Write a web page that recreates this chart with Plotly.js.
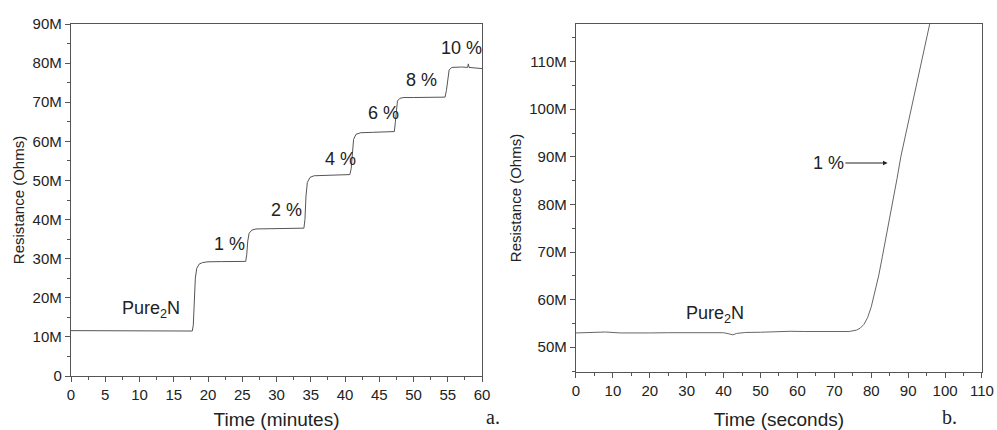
<!DOCTYPE html>
<html>
<head>
<meta charset="utf-8">
<script src="https://cdn.plot.ly/plotly-3.0.1.min.js"></script>
<style>html,body{margin:0;padding:0;background:#fff;}#chart{width:997px;height:430px;}</style>
</head>
<body>
<div id="chart"></div>
<script>
// Panel a: resistance vs time (minutes)
const timeMinutes = [0, 5, 10, 15, 17.7, 17.85, 18.0, 18.15, 18.35, 18.7, 19.2, 20, 22, 24, 25.5,
  25.65, 25.8, 26.0, 26.4, 27, 29, 31, 33, 34.0, 34.15, 34.3, 34.5, 34.9, 35.5, 37, 39, 40.7,
  40.9, 41.05, 41.25, 41.6, 42.3, 44, 46, 47.2, 47.35, 47.5, 47.65, 48.0, 48.6, 50, 52, 54.6,
  54.8, 55.0, 55.2, 55.6, 56.2, 57, 57.9, 58.0, 58.1, 59, 60];
const resistanceA = [11.6e6, 11.55e6, 11.5e6, 11.5e6, 11.5e6, 13e6, 20e6, 25e6, 27.5e6, 28.6e6, 29.0e6, 29.2e6, 29.25e6, 29.3e6, 29.3e6,
  31e6, 34.5e6, 36.5e6, 37.3e6, 37.6e6, 37.7e6, 37.8e6, 37.75e6, 37.8e6, 40e6, 46e6, 49.5e6, 50.8e6, 51.2e6, 51.3e6, 51.35e6, 51.5e6,
  53e6, 57e6, 60.5e6, 61.8e6, 62.2e6, 62.3e6, 62.35e6, 62.5e6, 65e6, 68.5e6, 70.3e6, 71.0e6, 71.2e6, 71.2e6, 71.25e6, 71.3e6,
  73e6, 76.5e6, 78.3e6, 78.9e6, 79.0e6, 79.0e6, 78.9e6, 79.8e6, 78.9e6, 78.8e6, 78.6e6];
const labelsA = ["1 %", "2 %", "4 %", "6 %", "8 %", "10 %"];
const labelsAx = [23.2, 31.5, 39.3, 45.6, 51.2, 57.0];
const labelsAy = [33.7e6, 42.5e6, 55.5e6, 67.2e6, 75.7e6, 83.8e6];

// Panel b: resistance vs time (seconds)
const timeSeconds = [0, 3, 8, 12, 15, 20, 25, 30, 35, 40, 41.5, 42.5, 43.5, 46, 50, 55, 58, 62, 66, 70, 74,
  76, 77, 78, 79, 80, 81, 82, 83, 84, 85, 86, 87, 88, 89, 90, 91, 92, 93, 94, 95, 96];
const resistanceB = [53.0e6, 53.05e6, 53.2e6, 53.0e6, 53.05e6, 53.0e6, 53.05e6, 53.1e6, 53.05e6, 53.05e6, 52.8e6, 52.6e6, 52.9e6, 53.1e6, 53.15e6, 53.3e6, 53.35e6, 53.3e6, 53.25e6, 53.2e6, 53.3e6,
  53.6e6, 54.0e6, 54.8e6, 56.2e6, 58.5e6, 61.5e6, 65e6, 69e6, 73e6, 77e6, 81e6, 85.5e6, 90e6, 93.5e6, 97e6, 100.5e6, 104e6, 108e6, 111.5e6, 115e6, 118.5e6];

const tickFont = {family: "Liberation Sans, Arial, sans-serif", size: 15, color: "#222"};
const titleFont = {family: "Liberation Sans, Arial, sans-serif", size: 19, color: "#222"};
const yTitleFont = {family: "Liberation Sans, Arial, sans-serif", size: 15, color: "#222"};
const annFont = {family: "Liberation Sans, Arial, sans-serif", size: 18, color: "#222"};
const lineColor = "#555";

function xAxis(domain, range, dtick, minorDtick, title) {
  return {
    domain: domain, range: range, dtick: dtick, tick0: 0,
    showgrid: false, zeroline: false, showline: true, mirror: true,
    linecolor: lineColor, linewidth: 1.2,
    ticks: "outside", ticklen: 5, tickwidth: 1, tickcolor: lineColor,
    minor: {ticks: "outside", ticklen: 3, dtick: minorDtick, tickcolor: lineColor, showgrid: false},
    tickfont: tickFont, automargin: false,
    title: {text: title, font: titleFont, standoff: 15}
  };
}
function yAxis(domain, range, anchor) {
  return {
    domain: domain, range: range, dtick: 10e6, tick0: 0, tickformat: "~s", anchor: anchor,
    showgrid: false, zeroline: false, showline: true, mirror: true,
    linecolor: lineColor, linewidth: 1.2,
    ticks: "outside", ticklen: 5, tickwidth: 1, tickcolor: lineColor,
    minor: {ticks: "outside", ticklen: 3, dtick: 5e6, tickcolor: lineColor, showgrid: false},
    tickfont: tickFont, automargin: false,
    title: {text: "Resistance (Ohms)", font: yTitleFont, standoff: 4}
  };
}

const traces = [
  {x: timeMinutes, y: resistanceA, xaxis: "x", yaxis: "y", mode: "lines",
   line: {color: "#555", width: 1}, showlegend: false, hoverinfo: "x+y"},
  {x: timeSeconds, y: resistanceB, xaxis: "x2", yaxis: "y2", mode: "lines",
   line: {color: "#666", width: 1}, showlegend: false, hoverinfo: "x+y"}
];

const annotations = [];
for (let i = 0; i < labelsA.length; i++) {
  annotations.push({x: labelsAx[i], y: labelsAy[i], xref: "x", yref: "y", text: labelsA[i],
    showarrow: false, font: annFont});
}
annotations.push({x: 11.7, y: 16.9e6, xref: "x", yref: "y", text: "Pure<sub>2</sub>N", showarrow: false, font: annFont});
annotations.push({x: 37.7, y: 56.8e6, xref: "x2", yref: "y2", text: "Pure<sub>2</sub>N", showarrow: false, font: annFont});
annotations.push({x: 84.4, y: 88.7e6, xref: "x2", yref: "y2", ax: 68.4, ay: 88.7e6, axref: "x2", ayref: "y2",
  text: "1 %", showarrow: true, arrowhead: 2, arrowsize: 0.9, arrowwidth: 1, arrowcolor: "#222",
  standoff: 0, startstandoff: 0, font: annFont});
annotations.push({x: 0.4631, y: -0.151, xref: "paper", yref: "paper", xanchor: "center", yanchor: "bottom",
  text: "a.", showarrow: false, borderpad: 0,
  font: {family: "Liberation Serif, Times New Roman, serif", size: 20, color: "#222"}});
annotations.push({x: 0.9646, y: -0.151, xref: "paper", yref: "paper", xanchor: "center", yanchor: "bottom",
  text: "b.", showarrow: false, borderpad: 0,
  font: {family: "Liberation Serif, Times New Roman, serif", size: 20, color: "#222"}});

const layout = {
  width: 997, height: 430,
  margin: {l: 71, r: 15, t: 24, b: 54},
  paper_bgcolor: "#fff", plot_bgcolor: "#fff",
  xaxis: xAxis([0, 0.4512], [0, 60], 5, 2.5, "Time (minutes)"),
  yaxis: yAxis([0, 1], [0, 90e6], "x"),
  xaxis2: Object.assign(xAxis([0.5543, 1], [0, 110], 10, 5, "Time (seconds)"), {anchor: "y2"}),
  yaxis2: yAxis([0.0114, 1], [44.8e6, 117.9e6], "x2"),
  annotations: annotations,
  showlegend: false
};

Plotly.newPlot("chart", traces, layout, {displayModeBar: false, staticPlot: true});
</script>
</body>
</html>
